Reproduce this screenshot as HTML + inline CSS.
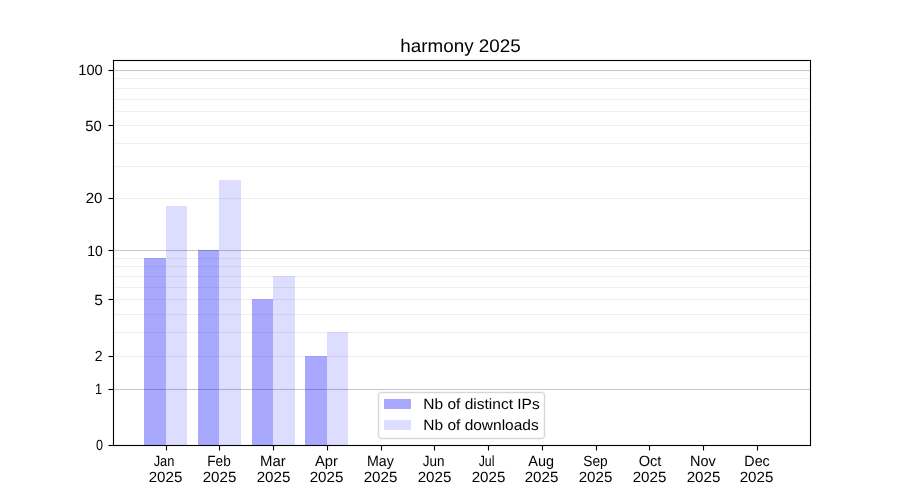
<!DOCTYPE html>
<html><head><meta charset="utf-8"><style>
html,body{margin:0;padding:0;background:#fff;}
svg{display:block;}
text{font-family:"Liberation Sans",sans-serif;fill:#000;}
svg{will-change:transform;}
</style></head><body>
<svg width="900" height="500" viewBox="0 0 900 500" shape-rendering="crispEdges" text-rendering="geometricPrecision">
<rect x="0" y="0" width="900" height="500" fill="#ffffff"/>
<rect x="113" y="78" width="697" height="1" fill="#b0b0b0" fill-opacity="0.2"/>
<rect x="113" y="88" width="697" height="1" fill="#b0b0b0" fill-opacity="0.2"/>
<rect x="113" y="99" width="697" height="1" fill="#b0b0b0" fill-opacity="0.2"/>
<rect x="113" y="111" width="697" height="1" fill="#b0b0b0" fill-opacity="0.2"/>
<rect x="113" y="125" width="697" height="1" fill="#b0b0b0" fill-opacity="0.2"/>
<rect x="113" y="143" width="697" height="1" fill="#b0b0b0" fill-opacity="0.2"/>
<rect x="113" y="166" width="697" height="1" fill="#b0b0b0" fill-opacity="0.2"/>
<rect x="113" y="198" width="697" height="1" fill="#b0b0b0" fill-opacity="0.2"/>
<rect x="113" y="258" width="697" height="1" fill="#b0b0b0" fill-opacity="0.2"/>
<rect x="113" y="266" width="697" height="1" fill="#b0b0b0" fill-opacity="0.2"/>
<rect x="113" y="276" width="697" height="1" fill="#b0b0b0" fill-opacity="0.2"/>
<rect x="113" y="287" width="697" height="1" fill="#b0b0b0" fill-opacity="0.2"/>
<rect x="113" y="299" width="697" height="1" fill="#b0b0b0" fill-opacity="0.2"/>
<rect x="113" y="314" width="697" height="1" fill="#b0b0b0" fill-opacity="0.2"/>
<rect x="113" y="332" width="697" height="1" fill="#b0b0b0" fill-opacity="0.2"/>
<rect x="113" y="356" width="697" height="1" fill="#b0b0b0" fill-opacity="0.2"/>
<rect x="113" y="70" width="697" height="1" fill="#b0b0b0" fill-opacity="0.7"/>
<rect x="113" y="69" width="697" height="1" fill="#b0b0b0" fill-opacity="0.03"/>
<rect x="113" y="71" width="697" height="1" fill="#b0b0b0" fill-opacity="0.03"/>
<rect x="113" y="250" width="697" height="1" fill="#b0b0b0" fill-opacity="0.7"/>
<rect x="113" y="249" width="697" height="1" fill="#b0b0b0" fill-opacity="0.03"/>
<rect x="113" y="251" width="697" height="1" fill="#b0b0b0" fill-opacity="0.03"/>
<rect x="113" y="389" width="697" height="1" fill="#b0b0b0" fill-opacity="0.7"/>
<rect x="113" y="388" width="697" height="1" fill="#b0b0b0" fill-opacity="0.03"/>
<rect x="113" y="390" width="697" height="1" fill="#b0b0b0" fill-opacity="0.03"/>
<rect x="144" y="258" width="22" height="187" fill="#0000ff" fill-opacity="0.34"/>
<rect x="166" y="206" width="21" height="239" fill="#0000ff" fill-opacity="0.135"/>
<rect x="198" y="250" width="21" height="195" fill="#0000ff" fill-opacity="0.34"/>
<rect x="219" y="180" width="22" height="265" fill="#0000ff" fill-opacity="0.135"/>
<rect x="252" y="299" width="21" height="146" fill="#0000ff" fill-opacity="0.34"/>
<rect x="273" y="276" width="22" height="169" fill="#0000ff" fill-opacity="0.135"/>
<rect x="305" y="356" width="22" height="89" fill="#0000ff" fill-opacity="0.34"/>
<rect x="327" y="332" width="21" height="113" fill="#0000ff" fill-opacity="0.135"/>
<rect x="113" y="59" width="698" height="1" fill="#000000" fill-opacity="0.055"/>
<rect x="113" y="61" width="698" height="1" fill="#000000" fill-opacity="0.055"/>
<rect x="113" y="444" width="698" height="1" fill="#000000" fill-opacity="0.055"/>
<rect x="113" y="446" width="698" height="1" fill="#000000" fill-opacity="0.055"/>
<rect x="112" y="60" width="1" height="386" fill="#000000" fill-opacity="0.055"/>
<rect x="114" y="62" width="1" height="382" fill="#000000" fill-opacity="0.055"/>
<rect x="809" y="62" width="1" height="382" fill="#000000" fill-opacity="0.055"/>
<rect x="811" y="60" width="1" height="386" fill="#000000" fill-opacity="0.055"/>
<rect x="113" y="60" width="698" height="1" fill="#000"/>
<rect x="113" y="445" width="698" height="1" fill="#000"/>
<rect x="113" y="60" width="1" height="386" fill="#000"/>
<rect x="810" y="60" width="1" height="386" fill="#000"/>
<rect x="112" y="60" width="1" height="1" fill="#000000" fill-opacity="0.06"/>
<rect x="811" y="60" width="1" height="1" fill="#000000" fill-opacity="0.06"/>
<rect x="811" y="445" width="1" height="1" fill="#000000" fill-opacity="0.06"/>
<rect x="113" y="59" width="1" height="1" fill="#000000" fill-opacity="0.06"/>
<rect x="810" y="59" width="1" height="1" fill="#000000" fill-opacity="0.06"/>
<rect x="113" y="446" width="1" height="1" fill="#000000" fill-opacity="0.06"/>
<rect x="810" y="446" width="1" height="1" fill="#000000" fill-opacity="0.06"/>
<rect x="109" y="445" width="4" height="1" fill="#000"/>
<rect x="108" y="445" width="1" height="1" fill="#000" fill-opacity="0.5"/>
<rect x="108" y="444" width="5" height="1" fill="#000000" fill-opacity="0.055"/>
<rect x="108" y="446" width="5" height="1" fill="#000000" fill-opacity="0.055"/>
<rect x="109" y="389" width="4" height="1" fill="#000"/>
<rect x="108" y="389" width="1" height="1" fill="#000" fill-opacity="0.5"/>
<rect x="108" y="388" width="5" height="1" fill="#000000" fill-opacity="0.055"/>
<rect x="108" y="390" width="5" height="1" fill="#000000" fill-opacity="0.055"/>
<rect x="109" y="356" width="4" height="1" fill="#000"/>
<rect x="108" y="356" width="1" height="1" fill="#000" fill-opacity="0.5"/>
<rect x="108" y="355" width="5" height="1" fill="#000000" fill-opacity="0.055"/>
<rect x="108" y="357" width="5" height="1" fill="#000000" fill-opacity="0.055"/>
<rect x="109" y="299" width="4" height="1" fill="#000"/>
<rect x="108" y="299" width="1" height="1" fill="#000" fill-opacity="0.5"/>
<rect x="108" y="298" width="5" height="1" fill="#000000" fill-opacity="0.055"/>
<rect x="108" y="300" width="5" height="1" fill="#000000" fill-opacity="0.055"/>
<rect x="109" y="250" width="4" height="1" fill="#000"/>
<rect x="108" y="250" width="1" height="1" fill="#000" fill-opacity="0.5"/>
<rect x="108" y="249" width="5" height="1" fill="#000000" fill-opacity="0.055"/>
<rect x="108" y="251" width="5" height="1" fill="#000000" fill-opacity="0.055"/>
<rect x="109" y="198" width="4" height="1" fill="#000"/>
<rect x="108" y="198" width="1" height="1" fill="#000" fill-opacity="0.5"/>
<rect x="108" y="197" width="5" height="1" fill="#000000" fill-opacity="0.055"/>
<rect x="108" y="199" width="5" height="1" fill="#000000" fill-opacity="0.055"/>
<rect x="109" y="125" width="4" height="1" fill="#000"/>
<rect x="108" y="125" width="1" height="1" fill="#000" fill-opacity="0.5"/>
<rect x="108" y="124" width="5" height="1" fill="#000000" fill-opacity="0.055"/>
<rect x="108" y="126" width="5" height="1" fill="#000000" fill-opacity="0.055"/>
<rect x="109" y="70" width="4" height="1" fill="#000"/>
<rect x="108" y="70" width="1" height="1" fill="#000" fill-opacity="0.5"/>
<rect x="108" y="69" width="5" height="1" fill="#000000" fill-opacity="0.055"/>
<rect x="108" y="71" width="5" height="1" fill="#000000" fill-opacity="0.055"/>
<rect x="166" y="446" width="1" height="4" fill="#000"/>
<rect x="166" y="450" width="1" height="1" fill="#000" fill-opacity="0.5"/>
<rect x="165" y="446" width="1" height="4" fill="#000000" fill-opacity="0.055"/>
<rect x="167" y="446" width="1" height="4" fill="#000000" fill-opacity="0.055"/>
<rect x="219" y="446" width="1" height="4" fill="#000"/>
<rect x="219" y="450" width="1" height="1" fill="#000" fill-opacity="0.5"/>
<rect x="218" y="446" width="1" height="4" fill="#000000" fill-opacity="0.055"/>
<rect x="220" y="446" width="1" height="4" fill="#000000" fill-opacity="0.055"/>
<rect x="273" y="446" width="1" height="4" fill="#000"/>
<rect x="273" y="450" width="1" height="1" fill="#000" fill-opacity="0.5"/>
<rect x="272" y="446" width="1" height="4" fill="#000000" fill-opacity="0.055"/>
<rect x="274" y="446" width="1" height="4" fill="#000000" fill-opacity="0.055"/>
<rect x="327" y="446" width="1" height="4" fill="#000"/>
<rect x="327" y="450" width="1" height="1" fill="#000" fill-opacity="0.5"/>
<rect x="326" y="446" width="1" height="4" fill="#000000" fill-opacity="0.055"/>
<rect x="328" y="446" width="1" height="4" fill="#000000" fill-opacity="0.055"/>
<rect x="381" y="446" width="1" height="4" fill="#000"/>
<rect x="381" y="450" width="1" height="1" fill="#000" fill-opacity="0.5"/>
<rect x="380" y="446" width="1" height="4" fill="#000000" fill-opacity="0.055"/>
<rect x="382" y="446" width="1" height="4" fill="#000000" fill-opacity="0.055"/>
<rect x="434" y="446" width="1" height="4" fill="#000"/>
<rect x="434" y="450" width="1" height="1" fill="#000" fill-opacity="0.5"/>
<rect x="433" y="446" width="1" height="4" fill="#000000" fill-opacity="0.055"/>
<rect x="435" y="446" width="1" height="4" fill="#000000" fill-opacity="0.055"/>
<rect x="488" y="446" width="1" height="4" fill="#000"/>
<rect x="488" y="450" width="1" height="1" fill="#000" fill-opacity="0.5"/>
<rect x="487" y="446" width="1" height="4" fill="#000000" fill-opacity="0.055"/>
<rect x="489" y="446" width="1" height="4" fill="#000000" fill-opacity="0.055"/>
<rect x="542" y="446" width="1" height="4" fill="#000"/>
<rect x="542" y="450" width="1" height="1" fill="#000" fill-opacity="0.5"/>
<rect x="541" y="446" width="1" height="4" fill="#000000" fill-opacity="0.055"/>
<rect x="543" y="446" width="1" height="4" fill="#000000" fill-opacity="0.055"/>
<rect x="596" y="446" width="1" height="4" fill="#000"/>
<rect x="596" y="450" width="1" height="1" fill="#000" fill-opacity="0.5"/>
<rect x="595" y="446" width="1" height="4" fill="#000000" fill-opacity="0.055"/>
<rect x="597" y="446" width="1" height="4" fill="#000000" fill-opacity="0.055"/>
<rect x="649" y="446" width="1" height="4" fill="#000"/>
<rect x="649" y="450" width="1" height="1" fill="#000" fill-opacity="0.5"/>
<rect x="648" y="446" width="1" height="4" fill="#000000" fill-opacity="0.055"/>
<rect x="650" y="446" width="1" height="4" fill="#000000" fill-opacity="0.055"/>
<rect x="703" y="446" width="1" height="4" fill="#000"/>
<rect x="703" y="450" width="1" height="1" fill="#000" fill-opacity="0.5"/>
<rect x="702" y="446" width="1" height="4" fill="#000000" fill-opacity="0.055"/>
<rect x="704" y="446" width="1" height="4" fill="#000000" fill-opacity="0.055"/>
<rect x="757" y="446" width="1" height="4" fill="#000"/>
<rect x="757" y="450" width="1" height="1" fill="#000" fill-opacity="0.5"/>
<rect x="756" y="446" width="1" height="4" fill="#000000" fill-opacity="0.055"/>
<rect x="758" y="446" width="1" height="4" fill="#000000" fill-opacity="0.055"/>
<rect x="378.5" y="392.5" width="166" height="46" rx="3" ry="3" fill="#ffffff" stroke="#f7f7f7" stroke-width="3" shape-rendering="geometricPrecision"/>
<rect x="378.5" y="392.5" width="166" height="46" rx="3" ry="3" fill="none" stroke="#d6d6d6" stroke-width="1" shape-rendering="geometricPrecision"/>
<rect x="384" y="399" width="27" height="10" fill="#0000ff" fill-opacity="0.34"/>
<rect x="384" y="420" width="27" height="10" fill="#0000ff" fill-opacity="0.135"/>
<text x="400.30" y="52.00" font-size="18.300" textLength="120.42" lengthAdjust="spacingAndGlyphs">harmony 2025</text>
<text x="96.00" y="450.00" font-size="14.760" textLength="7.00" lengthAdjust="spacingAndGlyphs">0</text>
<text x="94.95" y="394.00" font-size="14.760" textLength="7.09" lengthAdjust="spacingAndGlyphs">1</text>
<text x="94.65" y="361.00" font-size="14.760" textLength="7.80" lengthAdjust="spacingAndGlyphs">2</text>
<text x="94.30" y="305.00" font-size="14.760" textLength="8.69" lengthAdjust="spacingAndGlyphs">5</text>
<text x="87.30" y="256.00" font-size="14.760" textLength="15.53" lengthAdjust="spacingAndGlyphs">10</text>
<text x="85.65" y="203.00" font-size="14.760" textLength="16.74" lengthAdjust="spacingAndGlyphs">20</text>
<text x="85.30" y="131.00" font-size="14.760" textLength="16.53" lengthAdjust="spacingAndGlyphs">50</text>
<text x="78.30" y="75.00" font-size="14.760" textLength="24.48" lengthAdjust="spacingAndGlyphs">100</text>
<text x="423.30" y="409.00" font-size="14.760" textLength="116.41" lengthAdjust="spacingAndGlyphs">Nb of distinct IPs</text>
<text x="423.30" y="430.00" font-size="14.760" textLength="115.42" lengthAdjust="spacingAndGlyphs">Nb of downloads</text>
<text x="153.65" y="466.00" font-size="14.760" textLength="20.74" lengthAdjust="spacingAndGlyphs">Jan</text>
<text x="148.65" y="482.00" font-size="14.760" textLength="33.71" lengthAdjust="spacingAndGlyphs">2025</text>
<text x="207.30" y="466.00" font-size="14.760" textLength="23.48" lengthAdjust="spacingAndGlyphs">Feb</text>
<text x="202.65" y="482.00" font-size="14.760" textLength="33.71" lengthAdjust="spacingAndGlyphs">2025</text>
<text x="259.95" y="466.00" font-size="14.760" textLength="25.76" lengthAdjust="spacingAndGlyphs">Mar</text>
<text x="256.65" y="482.00" font-size="14.760" textLength="33.71" lengthAdjust="spacingAndGlyphs">2025</text>
<text x="315.00" y="466.00" font-size="14.760" textLength="23.00" lengthAdjust="spacingAndGlyphs">Apr</text>
<text x="309.65" y="482.00" font-size="14.760" textLength="33.71" lengthAdjust="spacingAndGlyphs">2025</text>
<text x="366.95" y="466.00" font-size="14.760" textLength="26.81" lengthAdjust="spacingAndGlyphs">May</text>
<text x="363.65" y="482.00" font-size="14.760" textLength="33.71" lengthAdjust="spacingAndGlyphs">2025</text>
<text x="422.65" y="466.00" font-size="14.760" textLength="21.77" lengthAdjust="spacingAndGlyphs">Jun</text>
<text x="417.65" y="482.00" font-size="14.760" textLength="33.71" lengthAdjust="spacingAndGlyphs">2025</text>
<text x="478.65" y="466.00" font-size="14.760" textLength="15.80" lengthAdjust="spacingAndGlyphs">Jul</text>
<text x="471.65" y="482.00" font-size="14.760" textLength="33.71" lengthAdjust="spacingAndGlyphs">2025</text>
<text x="528.35" y="466.00" font-size="14.760" textLength="25.73" lengthAdjust="spacingAndGlyphs">Aug</text>
<text x="524.65" y="482.00" font-size="14.760" textLength="33.71" lengthAdjust="spacingAndGlyphs">2025</text>
<text x="583.30" y="466.00" font-size="14.760" textLength="24.48" lengthAdjust="spacingAndGlyphs">Sep</text>
<text x="578.65" y="482.00" font-size="14.760" textLength="33.71" lengthAdjust="spacingAndGlyphs">2025</text>
<text x="638.65" y="466.00" font-size="14.760" textLength="22.72" lengthAdjust="spacingAndGlyphs">Oct</text>
<text x="632.65" y="482.00" font-size="14.760" textLength="33.71" lengthAdjust="spacingAndGlyphs">2025</text>
<text x="689.95" y="466.00" font-size="14.760" textLength="25.76" lengthAdjust="spacingAndGlyphs">Nov</text>
<text x="686.65" y="482.00" font-size="14.760" textLength="33.71" lengthAdjust="spacingAndGlyphs">2025</text>
<text x="744.30" y="466.00" font-size="14.760" textLength="25.48" lengthAdjust="spacingAndGlyphs">Dec</text>
<text x="739.65" y="482.00" font-size="14.760" textLength="33.71" lengthAdjust="spacingAndGlyphs">2025</text>
</svg>
</body></html>
